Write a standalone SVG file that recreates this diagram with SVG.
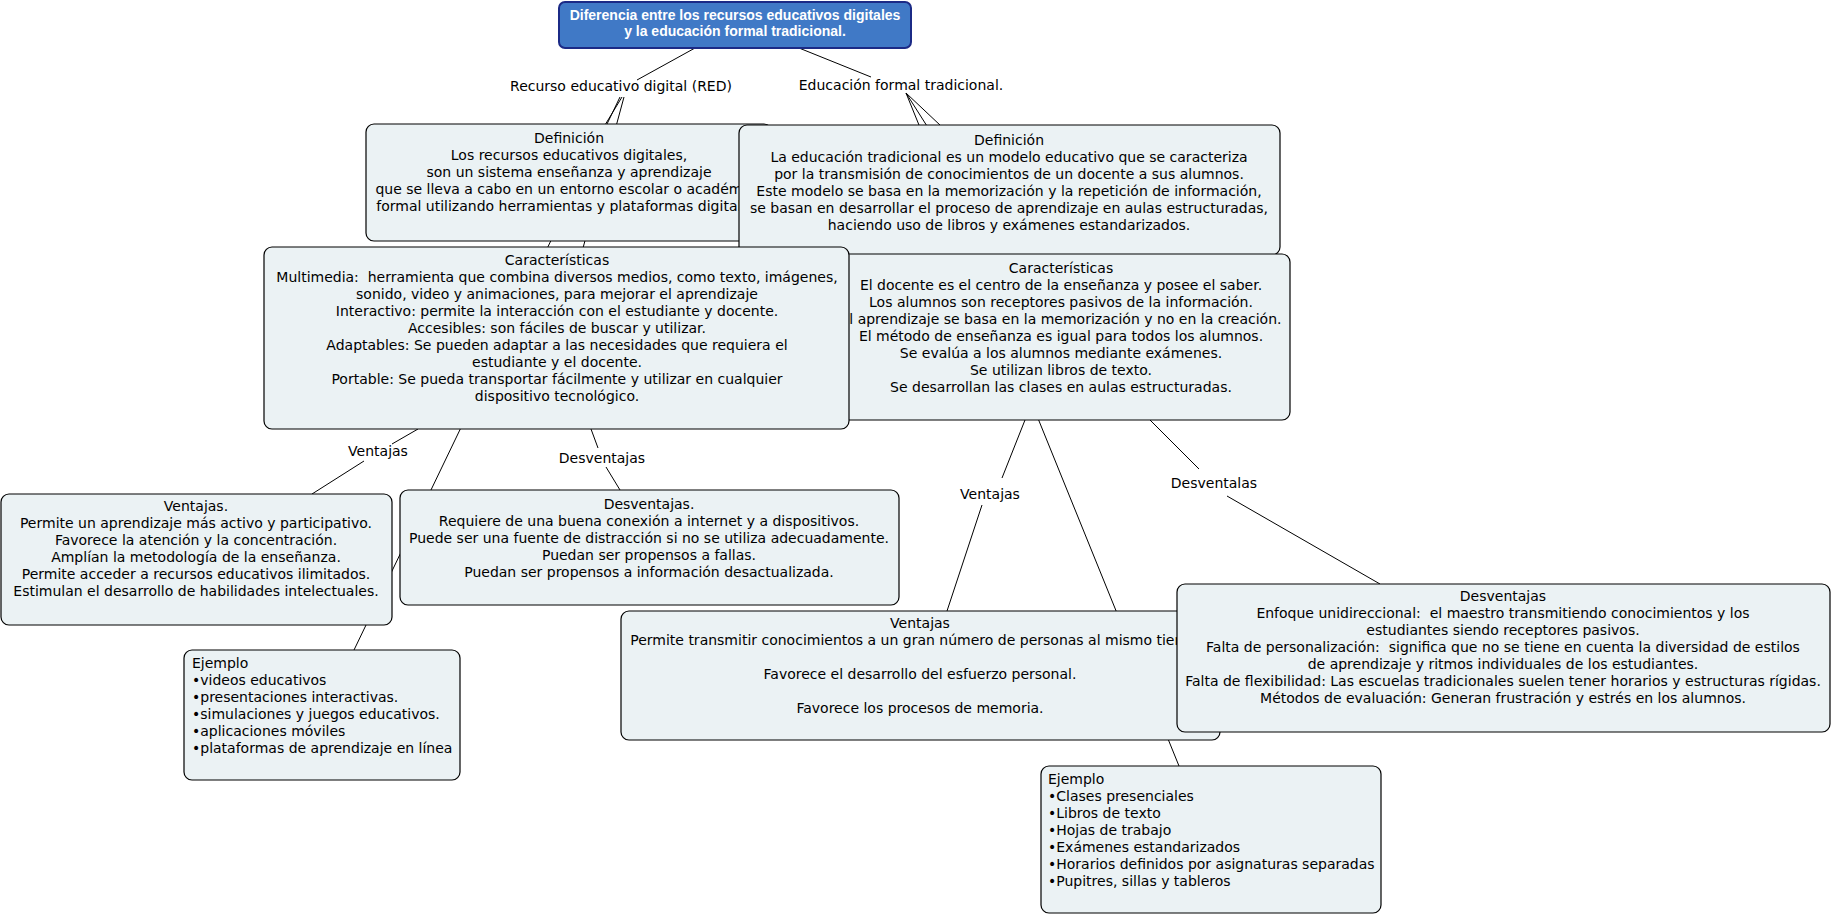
<svg xmlns="http://www.w3.org/2000/svg" width="1834" height="916" viewBox="0 0 1834 916">
<style>
.bg{fill:#ffffff}
.node rect{fill:#ebf2f4;stroke:#000;stroke-width:1.2}
.t{font-family:"DejaVu Sans",Verdana,sans-serif;font-size:14px;fill:#000;white-space:pre}
.c{text-anchor:middle}
.lbl{font-family:"DejaVu Sans",Verdana,sans-serif;font-size:14px;fill:#000;text-anchor:middle}
.title rect{fill:#4079c6;stroke:#1b2a86;stroke-width:2}
.title text{font-family:"Liberation Sans",Arial,sans-serif;font-weight:bold;font-size:14px;fill:#fff;text-anchor:middle}
.conn line{stroke:#000;stroke-width:1}
</style>
<rect class="bg" x="0" y="0" width="1834" height="916"/>
<g id="connectors" class="conn">
<line x1="695" y1="48" x2="637" y2="80"/>
<line x1="799" y1="48" x2="871" y2="77"/>
<line x1="622" y1="97" x2="605" y2="125"/>
<line x1="624" y1="97" x2="583" y2="248"/>
<line x1="620" y1="97" x2="354" y2="650"/>
<line x1="906" y1="93" x2="941" y2="126"/>
<line x1="906" y1="93" x2="1061" y2="337"/>
<line x1="906" y1="93" x2="1179" y2="766"/>
<line x1="418" y1="429" x2="392" y2="444"/>
<line x1="364" y1="461" x2="312" y2="494"/>
<line x1="591" y1="429" x2="598" y2="448"/>
<line x1="606" y1="467" x2="620" y2="490"/>
<line x1="1025" y1="420" x2="1002" y2="478"/>
<line x1="982" y1="505" x2="947" y2="611"/>
<line x1="1150" y1="420" x2="1199" y2="469"/>
<line x1="1227" y1="496" x2="1380" y2="584"/>
</g>
<g id="labels">
<text class="lbl" x="621" y="91">Recurso educativo digital (RED)</text>
<text class="lbl" x="901" y="90">Educación formal tradicional.</text>
<text class="lbl" x="378" y="456">Ventajas</text>
<text class="lbl" x="602" y="463">Desventajas</text>
<text class="lbl" x="990" y="499">Ventajas</text>
<text class="lbl" x="1214" y="488">Desventalas</text>
</g>
<g id="def-red" class="node">
<rect x="366" y="124" width="406" height="117" rx="8"/>
<text class="t c" x="569" y="143">Definición</text>
<text class="t c" x="569" y="160">Los recursos educativos digitales,</text>
<text class="t c" x="569" y="177">son un sistema enseñanza y aprendizaje</text>
<text class="t c" x="569" y="194">que se lleva a cabo en un entorno escolar o académico</text>
<text class="t c" x="569" y="211">formal utilizando herramientas y plataformas digitales.</text>
</g>
<g id="def-eft" class="node">
<rect x="739" y="125" width="541" height="130" rx="8"/>
<text class="t c" x="1009" y="145">Definición</text>
<text class="t c" x="1009" y="162">La educación tradicional es un modelo educativo que se caracteriza</text>
<text class="t c" x="1009" y="179">por la transmisión de conocimientos de un docente a sus alumnos.</text>
<text class="t c" x="1009" y="196">Este modelo se basa en la memorización y la repetición de información,</text>
<text class="t c" x="1009" y="213">se basan en desarrollar el proceso de aprendizaje en aulas estructuradas,</text>
<text class="t c" x="1009" y="230">haciendo uso de libros y exámenes estandarizados.</text>
</g>
<g id="car-eft" class="node">
<rect x="832" y="254" width="458" height="166" rx="8"/>
<text class="t c" x="1061" y="273">Características</text>
<text class="t c" x="1061" y="290">El docente es el centro de la enseñanza y posee el saber.</text>
<text class="t c" x="1061" y="307">Los alumnos son receptores pasivos de la información.</text>
<text class="t c" x="1061" y="324">El aprendizaje se basa en la memorización y no en la creación.</text>
<text class="t c" x="1061" y="341">El método de enseñanza es igual para todos los alumnos.</text>
<text class="t c" x="1061" y="358">Se evalúa a los alumnos mediante exámenes.</text>
<text class="t c" x="1061" y="375">Se utilizan libros de texto.</text>
<text class="t c" x="1061" y="392">Se desarrollan las clases en aulas estructuradas.</text>
</g>
<g id="car-red" class="node">
<rect x="264" y="247" width="585" height="182" rx="8"/>
<text class="t c" x="557" y="265">Características</text>
<text class="t c" x="557" y="282">Multimedia:  herramienta que combina diversos medios, como texto, imágenes,</text>
<text class="t c" x="557" y="299">sonido, video y animaciones, para mejorar el aprendizaje</text>
<text class="t c" x="557" y="316">Interactivo: permite la interacción con el estudiante y docente.</text>
<text class="t c" x="557" y="333">Accesibles: son fáciles de buscar y utilizar.</text>
<text class="t c" x="557" y="350">Adaptables: Se pueden adaptar a las necesidades que requiera el</text>
<text class="t c" x="557" y="367">estudiante y el docente.</text>
<text class="t c" x="557" y="384">Portable: Se pueda transportar fácilmente y utilizar en cualquier</text>
<text class="t c" x="557" y="401">dispositivo tecnológico.</text>
</g>
<g id="ven-red" class="node">
<rect x="1" y="494" width="391" height="131" rx="8"/>
<text class="t c" x="196" y="511">Ventajas.</text>
<text class="t c" x="196" y="528">Permite un aprendizaje más activo y participativo.</text>
<text class="t c" x="196" y="545">Favorece la atención y la concentración.</text>
<text class="t c" x="196" y="562">Amplían la metodología de la enseñanza.</text>
<text class="t c" x="196" y="579">Permite acceder a recursos educativos ilimitados.</text>
<text class="t c" x="196" y="596">Estimulan el desarrollo de habilidades intelectuales.</text>
</g>
<g id="des-red" class="node">
<rect x="400" y="490" width="499" height="115" rx="8"/>
<text class="t c" x="649" y="509">Desventajas.</text>
<text class="t c" x="649" y="526">Requiere de una buena conexión a internet y a dispositivos.</text>
<text class="t c" x="649" y="543">Puede ser una fuente de distracción si no se utiliza adecuadamente.</text>
<text class="t c" x="649" y="560">Puedan ser propensos a fallas.</text>
<text class="t c" x="649" y="577">Puedan ser propensos a información desactualizada.</text>
</g>
<g id="eje-red" class="node">
<rect x="184" y="650" width="276" height="130" rx="8"/>
<text class="t" x="192" y="668">Ejemplo</text>
<text class="t" x="192" y="685">•videos educativos</text>
<text class="t" x="192" y="702">•presentaciones interactivas.</text>
<text class="t" x="192" y="719">•simulaciones y juegos educativos.</text>
<text class="t" x="192" y="736">•aplicaciones móviles</text>
<text class="t" x="192" y="753">•plataformas de aprendizaje en línea</text>
</g>
<g id="ven-eft" class="node">
<rect x="621" y="611" width="599" height="129" rx="8"/>
<text class="t c" x="920" y="628">Ventajas</text>
<text class="t c" x="920" y="645">Permite transmitir conocimientos a un gran número de personas al mismo tiempo.</text>
<text class="t c" x="920" y="679">Favorece el desarrollo del esfuerzo personal.</text>
<text class="t c" x="920" y="713">Favorece los procesos de memoria.</text>
</g>
<g id="des-eft" class="node">
<rect x="1177" y="584" width="653" height="148" rx="8"/>
<text class="t c" x="1503" y="601">Desventajas</text>
<text class="t c" x="1503" y="618">Enfoque unidireccional:  el maestro transmitiendo conocimientos y los</text>
<text class="t c" x="1503" y="635">estudiantes siendo receptores pasivos.</text>
<text class="t c" x="1503" y="652">Falta de personalización:  significa que no se tiene en cuenta la diversidad de estilos</text>
<text class="t c" x="1503" y="669">de aprendizaje y ritmos individuales de los estudiantes.</text>
<text class="t c" x="1503" y="686">Falta de flexibilidad: Las escuelas tradicionales suelen tener horarios y estructuras rígidas.</text>
<text class="t c" x="1503" y="703">Métodos de evaluación: Generan frustración y estrés en los alumnos.</text>
</g>
<g id="eje-eft" class="node">
<rect x="1041" y="766" width="340" height="147" rx="8"/>
<text class="t" x="1048" y="784">Ejemplo</text>
<text class="t" x="1048" y="801">•Clases presenciales</text>
<text class="t" x="1048" y="818">•Libros de texto</text>
<text class="t" x="1048" y="835">•Hojas de trabajo</text>
<text class="t" x="1048" y="852">•Exámenes estandarizados</text>
<text class="t" x="1048" y="869">•Horarios definidos por asignaturas separadas</text>
<text class="t" x="1048" y="886">•Pupitres, sillas y tableros</text>
</g>
<g id="title" class="title">
<rect x="559" y="2" width="352" height="46" rx="6"/>
<text x="735" y="20">Diferencia entre los recursos educativos digitales</text>
<text x="735" y="36">y la educación formal tradicional.</text>
</g>
</svg>
